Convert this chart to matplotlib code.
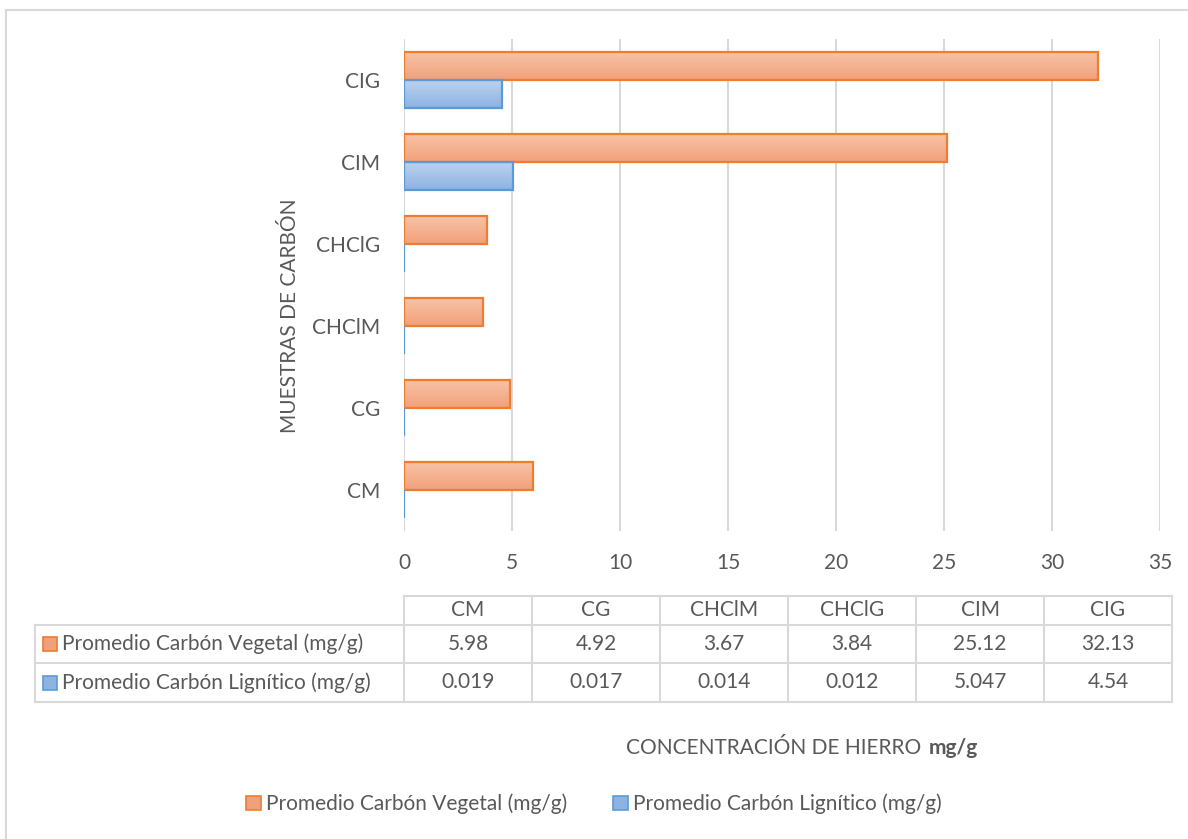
import numpy as np
import matplotlib
matplotlib.use("Agg")
import matplotlib.pyplot as plt
from matplotlib.lines import Line2D
from matplotlib.patches import Patch, Rectangle
from matplotlib.colors import LinearSegmentedColormap

plt.rcParams["font.family"] = ["Lato", "DejaVu Sans"]

muestras = ["CM", "CG", "CHClM", "CHClG", "CIM", "CIG"]
vegetal = [5.98, 4.92, 3.67, 3.84, 25.12, 32.13]
lignitico = [0.019, 0.017, 0.014, 0.012, 5.047, 4.54]
series_names = ["Promedio Carbón Vegetal (mg/g)", "Promedio Carbón Lignítico (mg/g)"]

W, H = 1188, 839
TXT = "#595959"
GRID = "#D9D9D9"
NARANJA = ("#F7C3A6", "#F2A07A", "#ED7D31")
AZUL = ("#BBD2EE", "#8DB3E2", "#5B9BD5")
FS = 15


def fx(px):
    return px / W


def fy(py):
    return 1 - py / H


fig = plt.figure(figsize=(W / 100, H / 100), dpi=100)
fig.patch.set_facecolor("white")

# area del gráfico en píxeles
x0, x1, y0, y1 = 404, 1160, 39, 531
ax = fig.add_axes([fx(x0), fy(y1), fx(x1 - x0), (y1 - y0) / H])

pos = np.arange(len(muestras))
h = 0.34


def gradient_bars(bars, colors):
    cmap = LinearSegmentedColormap.from_list("g", [colors[0], colors[1]])
    grad = np.linspace(0, 1, 64).reshape(-1, 1)
    for b in bars:
        x, y, w, hh = b.get_x(), b.get_y(), b.get_width(), b.get_height()
        im = ax.imshow(grad, cmap=cmap, aspect="auto", extent=[x, x + w, y, y + hh],
                       origin="upper", zorder=2)
        im.set_clip_path(b)
        b.set_facecolor("none")


b1 = ax.barh(pos + h / 2, vegetal, height=h, edgecolor=NARANJA[2], linewidth=1.6, zorder=3)
b2 = ax.barh(pos - h / 2, lignitico, height=h, edgecolor=AZUL[2], linewidth=1.6, zorder=3)
gradient_bars(b1, NARANJA)
gradient_bars(b2, AZUL)

ax.set_xlim(0, 35)
ax.set_ylim(-0.5, len(muestras) - 0.5)
ax.set_xticks(np.arange(0, 36, 5))
ax.set_yticks(pos)
ax.set_yticklabels(muestras)
ax.tick_params(axis="both", length=0, labelsize=FS, labelcolor=TXT)
ax.tick_params(axis="x", pad=16)
ax.tick_params(axis="y", pad=17)
ax.grid(axis="x", color=GRID, linewidth=1.5, zorder=0)
ax.set_axisbelow(True)
for s in ax.spines.values():
    s.set_visible(False)

fig.text(fx(290), fy(316), "MUESTRAS DE CARBÓN", rotation=90, ha="center", va="center",
         fontsize=FS, color=TXT)

# tabla de datos bajo el eje
col_w = 128
tx0 = 35
rows_y = [596, 625, 663, 702]
cols_x = [x0 + i * col_w for i in range(len(muestras) + 1)]


def hline(px_a, px_b, py):
    fig.add_artist(Line2D([fx(px_a), fx(px_b)], [fy(py), fy(py)], color=GRID, lw=1.5))


def vline(px, py_a, py_b):
    fig.add_artist(Line2D([fx(px), fx(px)], [fy(py_a), fy(py_b)], color=GRID, lw=1.5))


hline(x0, cols_x[-1], rows_y[0])
for py in rows_y[1:]:
    hline(tx0, cols_x[-1], py)
vline(tx0, rows_y[1], rows_y[3])
for px in cols_x:
    vline(px, rows_y[0], rows_y[3])

for i, m in enumerate(muestras):
    cx = cols_x[i] + col_w / 2
    fig.text(fx(cx), fy((rows_y[0] + rows_y[1]) / 2), m, ha="center", va="center",
             fontsize=FS, color=TXT)
    fig.text(fx(cx), fy((rows_y[1] + rows_y[2]) / 2), str(vegetal[i]), ha="center",
             va="center", fontsize=FS, color=TXT)
    fig.text(fx(cx), fy((rows_y[2] + rows_y[3]) / 2), str(lignitico[i]), ha="center",
             va="center", fontsize=FS, color=TXT)

for k, (name, col) in enumerate(zip(series_names, [NARANJA, AZUL])):
    cy = (rows_y[k + 1] + rows_y[k + 2]) / 2
    fig.add_artist(Rectangle((fx(43), fy(cy + 7)), fx(14), 14 / H, facecolor=col[1],
                             edgecolor=col[2], lw=1.2))
    fig.text(fx(62), fy(cy), name, ha="left", va="center", fontsize=FS, color=TXT)

# título del eje x
fig.text(fx(921), fy(748), "CONCENTRACIÓN DE HIERRO", ha="right", va="center",
         fontsize=FS, color=TXT)
fig.text(fx(929), fy(748), "mg/g", ha="left", va="center", fontsize=FS, color=TXT,
         fontweight="bold")

handles = [Patch(facecolor=c[1], edgecolor=c[2], lw=1.2) for c in (NARANJA, AZUL)]
fig.legend(handles, series_names, loc="center", bbox_to_anchor=(fx(594), fy(804)), ncol=2,
           frameon=False, fontsize=FS, labelcolor=TXT, handlelength=0.7, handleheight=0.7,
           handletextpad=0.25, columnspacing=2.2)

# borde del área del gráfico
fig.add_artist(Line2D([fx(6), fx(6)], [fy(10), 0], color=GRID, lw=1.5))
fig.add_artist(Line2D([fx(6), 1], [fy(10), fy(10)], color=GRID, lw=1.5))

fig.savefig("out.png", dpi=100, facecolor="white")
